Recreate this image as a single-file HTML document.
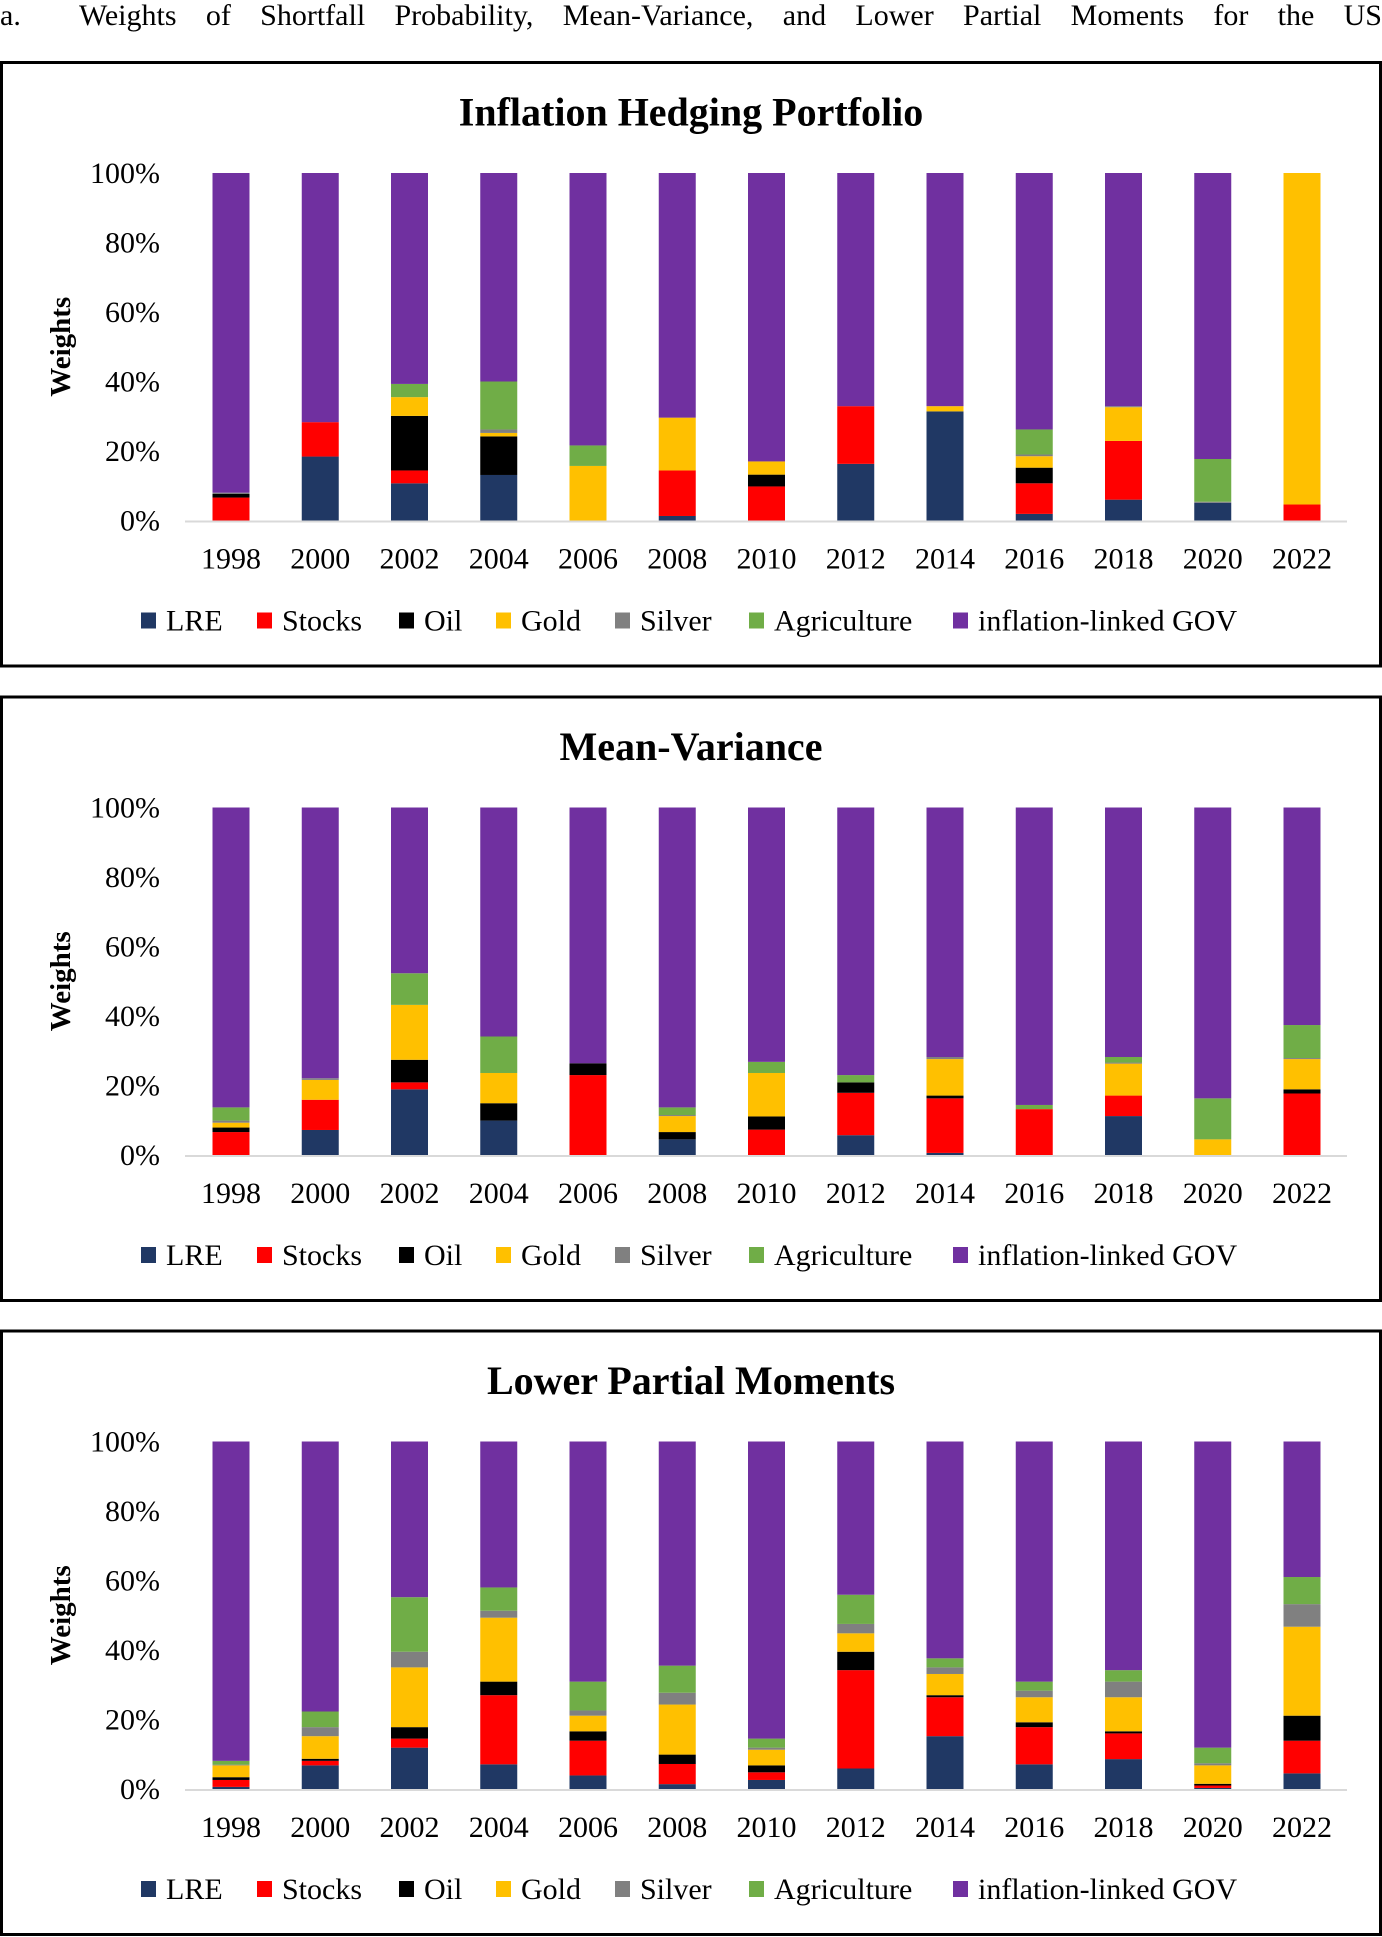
<!DOCTYPE html>
<html><head><meta charset="utf-8">
<style>
html,body{margin:0;padding:0;background:#fff;}
body{width:1382px;height:1937px;position:relative;overflow:hidden;font-family:"Liberation Serif","DejaVu Serif",serif;}
#hdr{position:absolute;left:0;top:1px;width:1382px;font-size:30px;line-height:30px;text-align:justify;text-align-last:justify;white-space:nowrap;}
svg{position:absolute;left:0;top:0;}
</style></head>
<body>
<div id="hdr">a.&nbsp; Weights of Shortfall Probability, Mean-Variance, and Lower Partial Moments for the US</div>
<svg id="chart" width="1382" height="1937" xmlns="http://www.w3.org/2000/svg"></svg>
<script>
const years = ["1998","2000","2002","2004","2006","2008","2010","2012","2014","2016","2018","2020","2022"];
const seriesNames = ["LRE","Stocks","Oil","Gold","Silver","Agriculture","inflation-linked GOV"];
const seriesColors = ["#203864","#FF0000","#000000","#FFC000","#808080","#70AD47","#7030A0"];
const yTicks = [0,20,40,60,80,100];
const yTickLabels = ["0%","20%","40%","60%","80%","100%"];
const panelTitles = ["Inflation Hedging Portfolio","Mean-Variance","Lower Partial Moments"];

// Panel 1: Inflation Hedging Portfolio (percent weights; GOV = remainder)
const p1LRE    = [0,18.4,10.7,13.1,0,1.3,0,16.3,31.4,1.9,6.0,5.1,0];
const p1Stocks = [6.6,9.9,3.7,0,0,13.1,9.8,16.6,0,8.8,16.9,0,4.6];
const p1Oil    = [1.1,0,15.7,11.1,0,0,3.4,0,0,4.5,0,0,0];
const p1Gold   = [0,0,5.4,1.0,15.7,15.2,3.8,0,1.5,3.3,9.7,0,95.4];
const p1Silver = [0.3,0,0,1.0,0,0,0,0,0,0.5,0.3,0.3,0];
const p1Agri   = [0,0,3.8,13.8,5.9,0,0,0,0,7.2,0,12.3,0];

// Panel 2: Mean-Variance
const p2LRE    = [0,7.2,18.9,9.9,0,4.5,0,5.7,0.6,0,11.2,0,0];
const p2Stocks = [6.6,8.7,2.0,0,23.0,0,7.3,12.2,15.7,13.2,5.9,0,17.7];
const p2Oil    = [1.3,0,6.5,5.0,3.4,2.1,3.8,3.0,0.8,0,0,0,1.2];
const p2Gold   = [1.4,5.7,15.8,8.7,0,4.6,12.5,0,10.5,0,9.2,4.5,8.7];
const p2Silver = [0.6,0.5,0,0,0,0.3,0,0,0.6,0,0.3,0,0.3];
const p2Agri   = [3.8,0,9.1,10.5,0,2.2,3.2,2.1,0,1.2,1.6,11.8,9.5];

// Panel 3: Lower Partial Moments
const p3LRE    = [0.6,6.8,11.9,7.1,3.9,1.4,2.6,5.9,15.2,7.1,8.6,0.3,4.5];
const p3Stocks = [2.0,1.3,2.6,19.9,10.0,5.8,2.2,28.3,11.2,10.7,7.4,0.7,9.4];
const p3Oil    = [0.8,0.6,3.3,3.9,2.7,2.7,2.0,5.3,0.6,1.4,0.6,0.5,7.2];
const p3Gold   = [3.4,6.5,17.2,18.4,4.5,14.4,4.5,5.3,6.1,7.2,9.8,5.3,25.6];
const p3Silver = [0.2,2.6,4.5,2.0,1.5,3.4,0.6,2.7,1.9,1.9,4.5,0.6,6.5];
const p3Agri   = [1.1,4.5,15.7,6.7,8.3,7.8,2.6,8.4,2.6,2.6,3.3,4.5,7.8];

const NS = "http://www.w3.org/2000/svg";
const svg = document.getElementById("chart");
function mk(tag, attrs, parent){
  const e = document.createElementNS(NS, tag);
  for (const k in attrs) e.setAttribute(k, attrs[k]);
  (parent||svg).appendChild(e);
  return e;
}
const panels = [
  [p1LRE,p1Stocks,p1Oil,p1Gold,p1Silver,p1Agri],
  [p2LRE,p2Stocks,p2Oil,p2Gold,p2Silver,p2Agri],
  [p3LRE,p3Stocks,p3Oil,p3Gold,p3Silver,p3Agri]
];
const panelTops = [62.5, 697, 1331];
const slugs = ["inflation-hedging","mean-variance","lower-partial-moments"];
const legendX = [141,257,399,496,615,749,953];

panels.forEach((series, pi) => {
  const top = panelTops[pi];
  const g = mk("g", {});
  
  
  const box = mk("rect", {x:1.5, y:top, width:1379, height:603.5, fill:"none", stroke:"#000", "stroke-width":3}, g);
  
  
  const t = mk("text", {x:691, y:top+63, "text-anchor":"middle", "font-size":40, "font-weight":"bold", "font-family":"Liberation Serif, serif"}, g);
  t.textContent = panelTitles[pi];
  
  

  const y0 = top + 458, y100 = top + 110.5;
  const yScale = v => y0 - (v/100)*(y0 - y100);
  const xScale = i => 231 + i*89.25;
  const bw = 37;

  // y ticks
  yTicks.forEach((v, k) => {
    const tl = mk("text", {x:160, y:yScale(v)+10, "text-anchor":"end", "font-size":30, "font-family":"Liberation Serif, serif"}, g);
    tl.textContent = yTickLabels[k];
    
    
  });
  const yt = mk("text", {x:0, y:0, "text-anchor":"middle", "font-size":29, "font-weight":"bold", "font-family":"Liberation Serif, serif",
    transform:`translate(70,${(y0+y100)/2}) rotate(-90)`}, g);
  yt.textContent = "Weights";
  
  

  // bars
  years.forEach((yr, i) => {
    let cum = 0;
    const vals = series.map(s => s[i]);
    const gov = 100 - vals.reduce((a,b)=>a+b,0);
    vals.concat([gov]).forEach((v, si) => {
      if (v <= 0) return;
      const yTop = yScale(cum + v), yBot = yScale(cum);
      const r = mk("rect", {x:xScale(i)-bw/2, y:yTop, width:bw, height:yBot-yTop, fill:seriesColors[si]}, g);
      
      
      cum += v;
    });
    const xl = mk("text", {x:xScale(i), y:top+506, "text-anchor":"middle", "font-size":30, "font-family":"Liberation Serif, serif"}, g);
    xl.textContent = yr;
    
    
  });
  const ax = mk("line", {x1:185, x2:1347, y1:y0+1, y2:y0+1, stroke:"#d9d9d9", "stroke-width":2}, g);
  
  

  // legend
  seriesNames.forEach((n, si) => {
    const lx = legendX[si], ly = top + 558;
    const sq = mk("rect", {x:lx, y:ly-8, width:15, height:16, fill:seriesColors[si]}, g);
    
    
    const lt = mk("text", {x:lx+25, y:ly+10, "font-size":30, "font-family":"Liberation Serif, serif"}, g);
    lt.textContent = n;
    
    
  });
});
</script>
</body></html>
